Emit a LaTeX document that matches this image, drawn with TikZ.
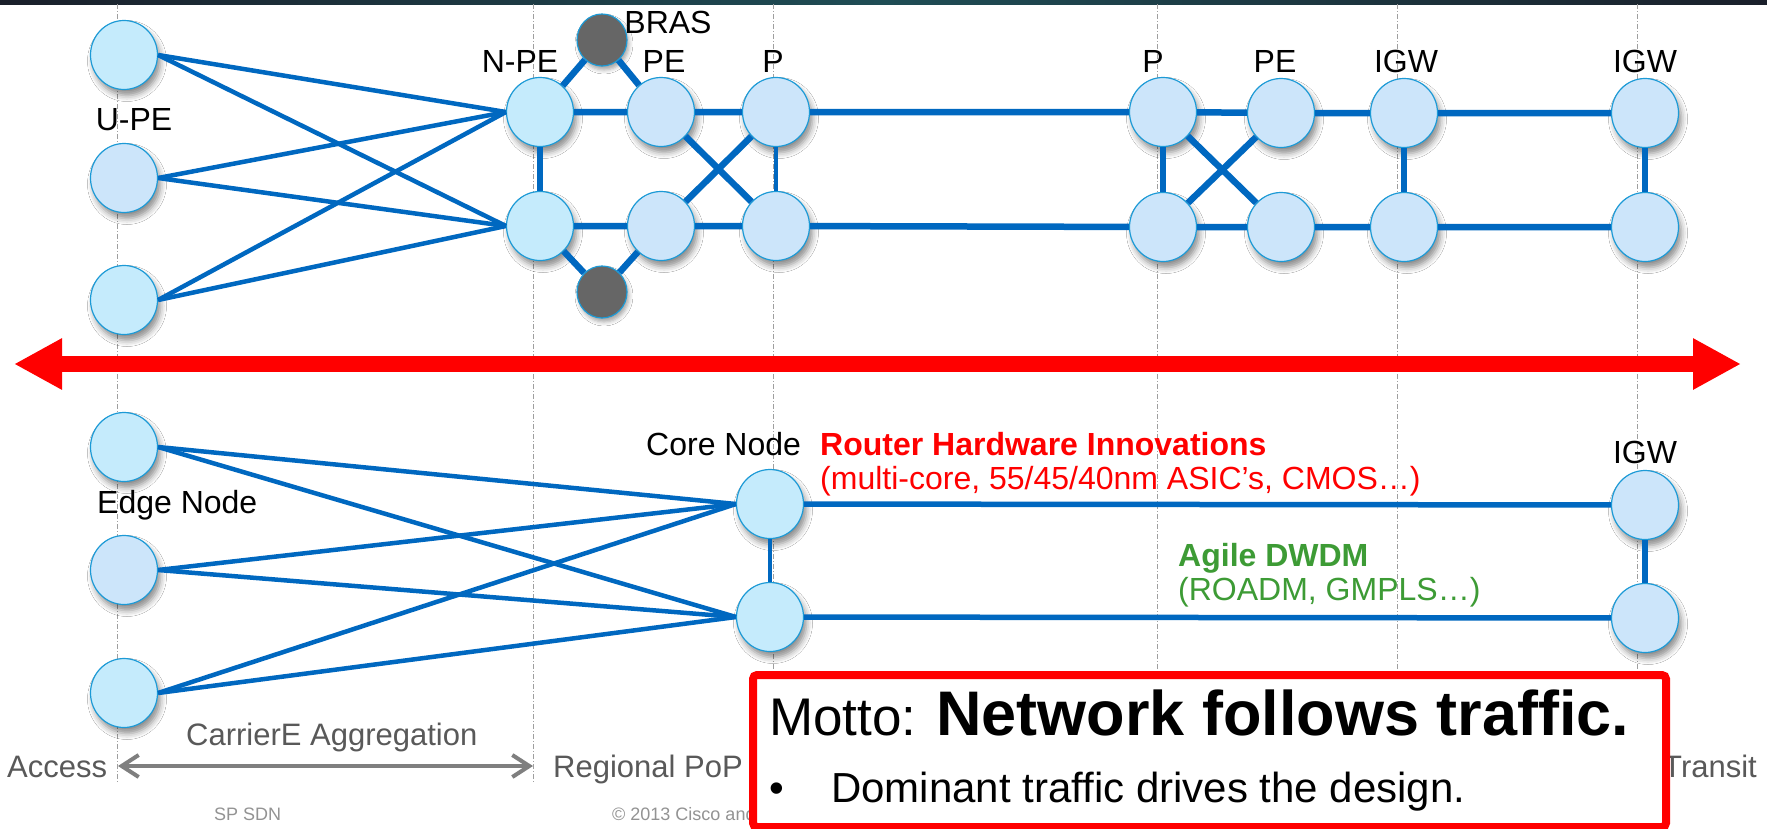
\documentclass[tikz,border=0pt]{standalone}
\usepackage{fontspec}
\setmainfont{Liberation Sans}
\usetikzlibrary{arrows.meta,shapes.geometric,shadows.blur}

\definecolor{linkblue}{HTML}{0068C0}
\definecolor{rimblue}{HTML}{1C9AD6}
\definecolor{cyanfill}{HTML}{C5EBFC}
\definecolor{lavfill}{HTML}{CCE5FA}
\definecolor{brasgray}{HTML}{666666}
\definecolor{textgray}{HTML}{595959}
\definecolor{arrowgray}{HTML}{7F7F7F}
\definecolor{agilegreen}{HTML}{3D9B35}
\definecolor{stripdark}{HTML}{1A1F2A}
\definecolor{stripteal}{HTML}{1F4D55}

\newcommand{\fs}[1]{\fontsize{#1}{#1}\selectfont}

\begin{document}
\begin{tikzpicture}[x=1pt,y=-1pt,
  router/.style={ellipse, draw=rimblue, line width=1.2pt, inner sep=0pt,
    minimum width=67pt, minimum height=69pt,
    blur shadow={shadow xshift=3pt, shadow yshift=-6pt, shadow blur radius=6pt, shadow opacity=45}},
  rl/.style={router, fill=cyanfill},
  rd/.style={router, fill=lavfill},
  bras/.style={ellipse, draw=rimblue, line width=1.2pt, fill=brasgray, inner sep=0pt,
    minimum width=50pt, minimum height=52pt,
    blur shadow={shadow xshift=2pt, shadow yshift=-4pt, shadow blur radius=4pt, shadow opacity=35}},
  core/.style={draw=linkblue, line width=6.5pt},
  mid/.style={draw=linkblue, line width=5.5pt},
  slim/.style={draw=linkblue, line width=4.5pt},
  fan/.style={draw=linkblue, line width=4.5pt},
  guide/.style={draw=gray!75, line width=0.9pt, dash pattern=on 5pt off 2pt on 1pt off 2pt},
  lbl/.style={anchor=base, inner sep=0pt, font=\fs{32}},
  lblw/.style={anchor=base west, inner sep=0pt, font=\fs{32}},
  zone/.style={anchor=base west, inner sep=0pt, font=\fs{31}, text=textgray},
  span/.style={draw=red, line width=16pt, {Triangle[length=48pt,width=48pt]}-{Triangle[length=48pt,width=48pt]}},
  reach/.style={draw=arrowgray, line width=4pt, {Straight Barb[length=17pt,width=22pt,line width=4pt]}-{Straight Barb[length=17pt,width=22pt,line width=4pt]}}
]
\useasboundingbox (0,0) rectangle (1767,828);
\fill[white] (0,0) rectangle (1767,828);

% dark title strip along the top edge
\shade[left color=stripdark, right color=stripdark, middle color=stripteal] (0,0) rectangle (1767,4);

% dash-dot column guides
\foreach \gx in {117,533,773,1157,1397,1637}
  \draw[guide] (\gx,4) -- (\gx,783);

% red double arrow dividing the two views
\coordinate (spanL) at (14,364);
\coordinate (spanR) at (1741,364);
\draw[span] (spanL) -- (spanR);

% ---------- upper view: access / aggregation / core ----------
\node[rl] (u1) at (124,55) {};
\node[rd] (u2) at (124,178) {};
\node[rl] (u3) at (124,300) {};
\node[rl] (n1) at (540,112) {};
\node[rl] (n2) at (540,226) {};
\node[bras] (b1) at (602,40) {};
\node[bras] (b2) at (602,292) {};
\node[rd] (pe1) at (661,112) {};
\node[rd] (pe2) at (661,226) {};
\node[rd] (p1) at (776,112) {};
\node[rd] (p2) at (776,226) {};
\node[rd] (q1) at (1163,112) {};
\node[rd] (q2) at (1163,227) {};
\node[rd] (e1) at (1281,113) {};
\node[rd] (e2) at (1281,227) {};
\node[rd] (g1) at (1404,113) {};
\node[rd] (g2) at (1404,227) {};
\node[rd] (h1) at (1645,113) {};
\node[rd] (h2) at (1645,227) {};

\foreach \s in {u1,u2,u3}
  \foreach \t in {n1,n2}
    \draw[fan] (\s.east) -- (\t.west);

\draw[core] (n1) -- (pe1) -- (p1) -- (q1) -- (e1) -- (g1) -- (h1);
\draw[core] (n2) -- (pe2) -- (p2) -- (q2) -- (e2) -- (g2) -- (h2);
\draw[core] (n1) -- (n2);
\draw[slim] (p1) -- (p2);
\draw[core] (q1) -- (q2);
\draw[core] (g1) -- (g2);
\draw[core] (h1) -- (h2);
\draw[core] (pe1) -- (p2);
\draw[core] (pe2) -- (p1);
\draw[core] (q1) -- (e2);
\draw[core] (q2) -- (e1);
\draw[core] (n1) -- (b1) -- (pe1);
\draw[core] (n2) -- (b2) -- (pe2);

\node[lbl] (tUPE) at (134,130) {U-PE};
\node[lbl] (tNPE) at (520,72) {N-PE};
\node[lbl] (tBRAS) at (668,33) {BRAS};
\node[lbl] (tPE1) at (664,72) {PE};
\node[lbl] (tP1) at (773,72) {P};
\node[lbl] (tP2) at (1153,72) {P};
\node[lbl] (tPE2) at (1275,72) {PE};
\node[lbl] (tIGW1) at (1406,72) {IGW};
\node[lbl] (tIGW2) at (1645,72) {IGW};

% ---------- lower view: edge / core ----------
\node[rl] (a1) at (124,447) {};
\node[rd] (a2) at (124,570) {};
\node[rl] (a3) at (124,693) {};
\node[rl] (c1) at (770,504) {};
\node[rl] (c2) at (770,617) {};
\node[rd] (i1) at (1645,505) {};
\node[rd] (i2) at (1645,618) {};

\foreach \s in {a1,a2,a3}
  \foreach \t in {c1,c2}
    \draw[fan] (\s.east) -- (\t.west);

\draw[mid] (c1) -- (i1);
\draw[mid] (c2) -- (i2);
\draw[slim] (c1) -- (c2);
\draw[mid] (i1) -- (i2);

\node[lblw] (tEdge) at (97,513) {Edge Node};
\node[lblw] (tCore) at (646,455) {Core Node};
\node[lbl] (tIGW3) at (1645,463) {IGW};
\node[lblw, text=red, font=\fs{32}\bfseries] (tRHI) at (820,455) {Router Hardware Innovations};
\node[lblw, text=red] (tRHI2) at (820,489) {(multi-core, 55/45/40nm ASIC’s, CMOS…)};
\node[lblw, text=agilegreen, font=\fs{32}\bfseries] (tDW) at (1178,566) {Agile DWDM};
\node[lblw, text=agilegreen] (tDW2) at (1178,600) {(ROADM, GMPLS…)};

% ---------- zone captions ----------
\node[zone] (zAcc) at (7,777) {Access};
\node[zone] (zAgg) at (186,745) {CarrierE Aggregation};
\node[zone] (zReg) at (553,777) {Regional PoP};
\node[zone] (zTr) at (1663,777) {Transit};
\coordinate (reachL) at (118,766);
\coordinate (reachR) at (533,766);
\draw[reach] (reachL) -- (reachR);

\node[anchor=base west, inner sep=0pt, font=\fs{18}, text=gray!85] (fSP) at (214,820) {SP SDN};
\node[anchor=base west, inner sep=0pt, font=\fs{18}, text=gray!85] (fCopy) at (612,820) {© 2013 Cisco and};

% ---------- motto box ----------
\node[draw=red, line width=8pt, fill=white, rounded corners=4pt, inner sep=0pt,
  minimum width=913pt, minimum height=152pt, anchor=north west] (motto) at (749,671) {};
\node[anchor=base west, inner sep=0pt] (mHead) at (769,735)
  {\fs{53}Motto: \fs{63}\bfseries Network follows traffic.};
\node[anchor=base west, inner sep=0pt, font=\fs{42}] (mDot) at (769,802) {•};
\node[anchor=base west, inner sep=0pt, font=\fs{42}] (mLine) at (831,802) {Dominant traffic drives the design.};
\end{tikzpicture}
\end{document}
